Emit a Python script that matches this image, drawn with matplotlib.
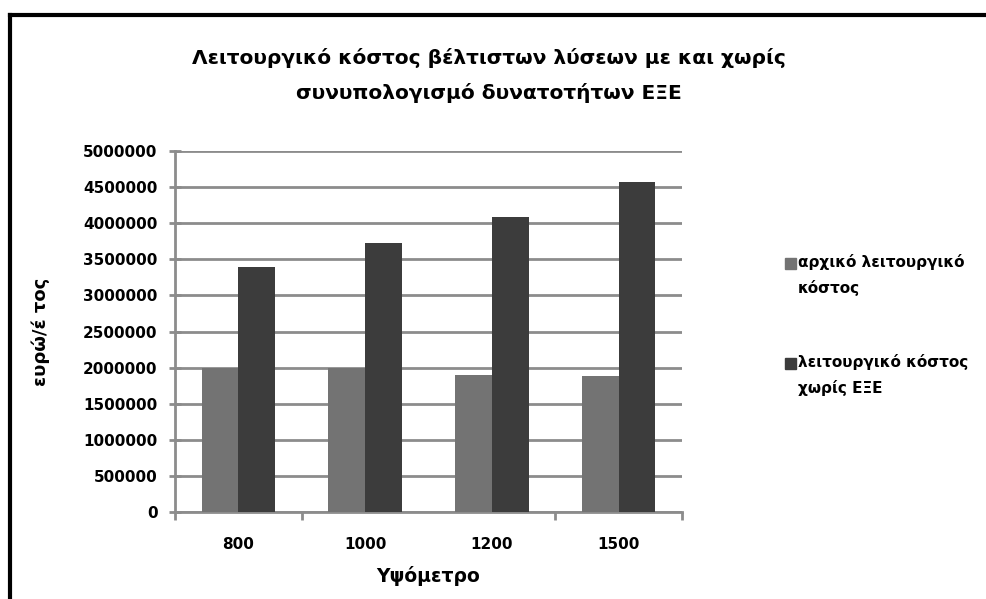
import matplotlib.pyplot as plt
import numpy as np
from matplotlib.lines import Line2D
from matplotlib.patches import Rectangle

# data
altitudes = ["800", "1000", "1200", "1500"]
initial_cost = [1990000, 1990000, 1900000, 1885000]
cost_without = [3395000, 3730000, 4085000, 4570000]
series_names = ["αρχικό λειτουργικό\nκόστος", "λειτουργικό κόστος\nχωρίς ΕΞΕ"]
colors = ["#737373", "#3c3c3c"]

title = "Λειτουργικό κόστος βέλτιστων λύσεων με και χωρίς\nσυνυπολογισμό δυνατοτήτων ΕΞΕ"

fig = plt.figure(figsize=(9.86, 5.99), dpi=100)
ax = fig.add_axes([175 / 986, 1 - 512 / 599, 507 / 986, 361 / 599])

x = np.arange(len(altitudes))
w = 0.29
bars1 = ax.bar(x - w / 2, initial_cost, w, color=colors[0], zorder=3)
bars2 = ax.bar(x + w / 2, cost_without, w, color=colors[1], zorder=3)

ax.set_xlim(-0.5, len(altitudes) - 0.5)
ax.set_ylim(0, 5000000)
ax.set_yticks(np.arange(0, 5000001, 500000))
ax.yaxis.grid(True, color="#8c8c8c", linewidth=2, zorder=0)
ax.set_axisbelow(True)

for s in ["top", "right"]:
    ax.spines[s].set_visible(False)
ax.spines["left"].set_color("#8c8c8c")
ax.spines["left"].set_linewidth(2)
ax.spines["bottom"].set_color("#8c8c8c")
ax.spines["bottom"].set_linewidth(2)

ax.set_yticklabels([str(v) for v in range(0, 5000001, 500000)],
                   fontweight="bold", fontsize=11)
ax.tick_params(axis="y", direction="inout", length=9, width=2, color="#8c8c8c", pad=8)

# category labels in the middle, ticks on the boundaries
ax.set_xticks(x)
ax.set_xticklabels(altitudes, fontweight="bold", fontsize=11)
ax.tick_params(axis="x", which="major", length=0, pad=18)
ax.set_xticks([-0.5, 0.5, 2.5, 3.5], minor=True)
ax.tick_params(axis="x", which="minor", direction="out", length=6, width=2, color="#8c8c8c")

ax.set_xlabel("Υψόμετρο", fontweight="bold", fontsize=13.5, labelpad=10)
ax.set_ylabel("ευρώ/έ τος", fontweight="bold", fontsize=13, labelpad=24)

fig.text(0.496, 1 - 48 / 599, title, ha="center", va="top", fontsize=14.5,
         fontweight="bold", linespacing=1.95)

# legend drawn by hand, square next to the first line
for i, (name, col) in enumerate(zip(series_names, colors)):
    ytop = 258 + i * 100
    fig.patches.append(Rectangle((785 / 986, 1 - (ytop + 11) / 599), 11 / 986, 11 / 599,
                                 transform=fig.transFigure, color=col))
    fig.text(798 / 986, 1 - (ytop - 4) / 599, name, ha="left", va="top",
             fontsize=11, fontweight="bold", linespacing=1.8)

# outer frame (left and top edges only are visible)
fig.add_artist(Line2D([10 / 986, 10 / 986], [0, 1 - 15 / 599], color="black", lw=3,
                      transform=fig.transFigure))
fig.add_artist(Line2D([10 / 986, 1], [1 - 15 / 599, 1 - 15 / 599], color="black", lw=3,
                      transform=fig.transFigure))

plt.savefig("out.png", dpi=100)
